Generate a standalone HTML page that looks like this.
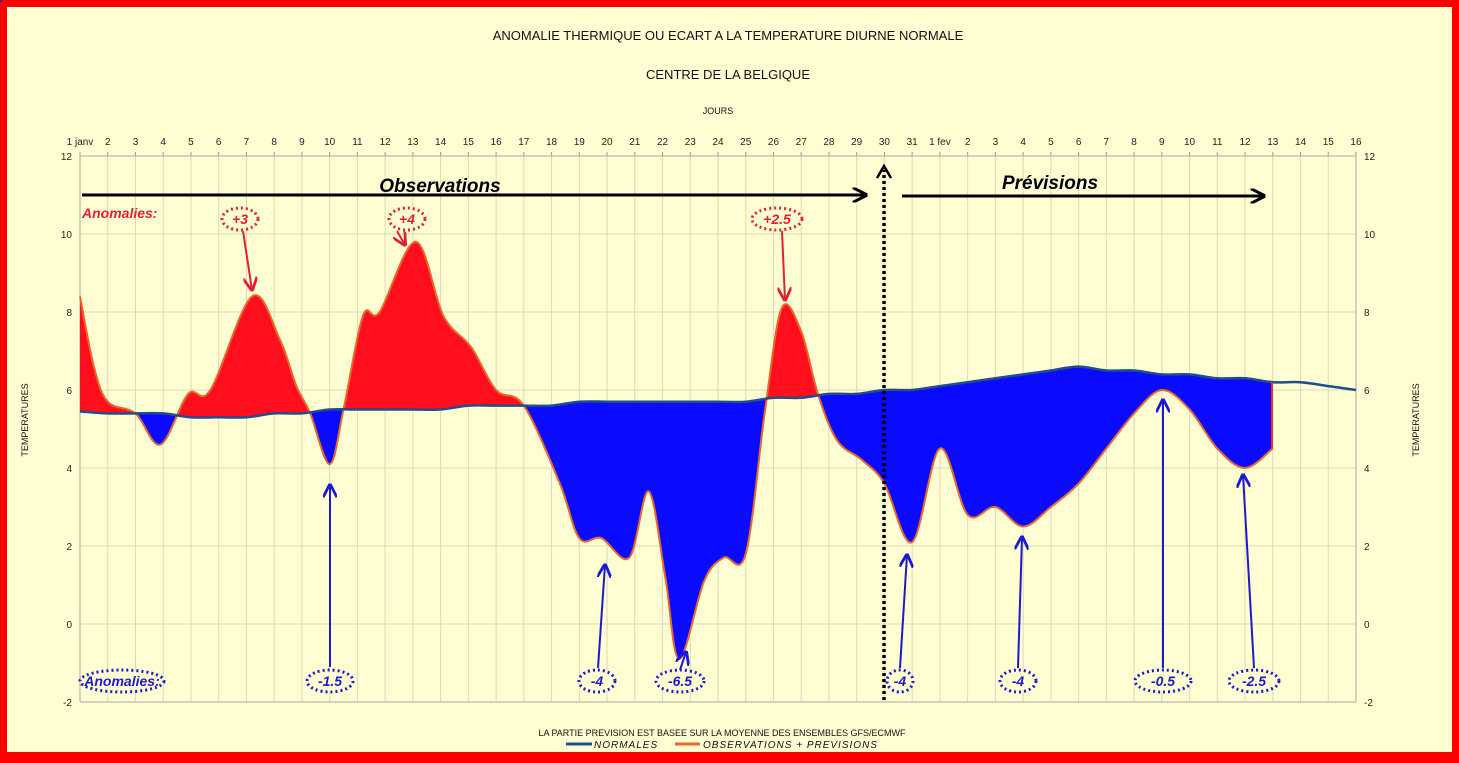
<!DOCTYPE html>
<html><head><meta charset="utf-8"><style>
html,body{margin:0;padding:0;background:#fffdd2;}
svg{display:block;font-family:"Liberation Sans",sans-serif;}
</style></head><body>
<svg id="s" width="1459" height="763" viewBox="0 0 1459 763" xmlns="http://www.w3.org/2000/svg">
<rect x="0" y="0" width="1459" height="763" fill="#ff0000"/>
<rect x="7" y="7" width="1445" height="745" fill="#fffdd2"/>
<g id="grid"></g>
<defs>
<clipPath id="above"><path id="cA"/></clipPath>
<clipPath id="below"><path id="cB"/></clipPath>
<marker id="ar" viewBox="0 0 10 10" refX="9" refY="5" markerWidth="7" markerHeight="7" orient="auto-start-reverse"><path d="M0,0 L10,5 L0,10" fill="none" stroke="context-stroke" stroke-width="2"/></marker>
<marker id="ab" viewBox="0 0 10 10" refX="9" refY="5" markerWidth="5" markerHeight="5" orient="auto"><path d="M0,0 L10,5 L0,10" fill="none" stroke="#000" stroke-width="2"/></marker>
</defs>
<path id="fr" fill="#ff0f1e" clip-path="url(#above)"/>
<path id="fb" fill="#0a0aff" clip-path="url(#below)"/>
<path id="obs" fill="none" stroke="#e8682c" stroke-width="2"/>
<path id="nor" fill="none" stroke="#1f4e8c" stroke-width="2.5"/>
<line x1="1272" y1="382" x2="1272" y2="448" stroke="#e0303a" stroke-width="2"/>
<text x="728" y="40" font-size="13" text-anchor="middle" fill="#111">ANOMALIE THERMIQUE OU ECART A LA TEMPERATURE DIURNE NORMALE</text>
<text x="728" y="79" font-size="13" text-anchor="middle" fill="#111">CENTRE DE LA BELGIQUE</text>
<text x="718" y="114" font-size="9" text-anchor="middle" fill="#111">JOURS</text>
<text transform="translate(28,420) rotate(-90)" font-size="9" text-anchor="middle" fill="#111">TEMPERATURES</text>
<text transform="translate(1419,420) rotate(-90)" font-size="9" text-anchor="middle" fill="#111">TEMPERATURES</text>
<text x="722" y="736" font-size="9" text-anchor="middle" fill="#111">LA PARTIE PREVISION EST BASEE SUR LA MOYENNE DES ENSEMBLES GFS/ECMWF</text>
<line x1="566" y1="744" x2="592" y2="744" stroke="#1f4e8c" stroke-width="3"/>
<text x="594" y="748" font-size="10" font-style="italic" fill="#111" letter-spacing="1">NORMALES</text>
<line x1="675" y1="744" x2="700" y2="744" stroke="#e8682c" stroke-width="3"/>
<text x="703" y="748" font-size="10" font-style="italic" fill="#111" letter-spacing="1">OBSERVATIONS + PREVISIONS</text>
<line x1="82" y1="195" x2="866" y2="195" stroke="#000" stroke-width="3" marker-end="url(#ab)"/>
<text x="440" y="192" font-size="19" font-weight="bold" font-style="italic" text-anchor="middle" fill="#000">Observations</text>
<line x1="902" y1="196" x2="1264" y2="196" stroke="#000" stroke-width="3" marker-end="url(#ab)"/>
<text x="1050" y="189" font-size="19" font-weight="bold" font-style="italic" text-anchor="middle" fill="#000">Prévisions</text>
<line x1="884" y1="700" x2="884" y2="170" stroke="#000" stroke-width="3.5" stroke-dasharray="3,3"/>
<path d="M877,178 L884,166 L891,178" fill="none" stroke="#000" stroke-width="2.5"/>
<text x="82" y="218" font-size="14" font-weight="bold" font-style="italic" fill="#e0203a">Anomalies:</text>
<g id="ann"></g>
</svg>
<script>
var X=d=>80+d*27.739, Y=v=>156+(12-v)*39;
var g=document.getElementById('grid'),h='';
for(var i=0;i<=46;i++){var x=X(i);h+='<line x1="'+x+'" y1="156" x2="'+x+'" y2="702" stroke="#ddd9b8" stroke-width="1"/>';
h+='<line x1="'+x+'" y1="152" x2="'+x+'" y2="156" stroke="#999"/>';}
for(var v=-2;v<=12;v+=2){var y=Y(v);h+='<line x1="80" y1="'+y+'" x2="1356" y2="'+y+'" stroke="#ddd9b8"/>';
h+='<text x="72" y="'+(y+4)+'" font-size="10" text-anchor="end" fill="#222">'+v+'</text><text x="1364" y="'+(y+4)+'" font-size="10" fill="#222">'+v+'</text>';}
h+='<line x1="80" y1="156" x2="80" y2="702" stroke="#aaa"/><line x1="1356" y1="156" x2="1356" y2="702" stroke="#aaa"/><line x1="80" y1="156" x2="1356" y2="156" stroke="#aaa"/><line x1="80" y1="702" x2="1356" y2="702" stroke="#aaa"/>';
var labs=['1 janv'];for(i=2;i<=31;i++)labs.push(''+i);labs.push('1 fev');for(i=2;i<=16;i++)labs.push(''+i);
labs.forEach((l,i)=>{h+='<text x="'+X(i)+'" y="145" font-size="10" text-anchor="middle" fill="#222">'+l+'</text>';});
g.innerHTML=h;
function cr(p){var s='M'+X(p[0][0])+','+Y(p[0][1]);var P=p.map(q=>[X(q[0]),Y(q[1])]);
for(var i=0;i<P.length-1;i++){var a=P[i-1]||P[i],b=P[i],c=P[i+1],d=P[i+2]||c;
s+=' C'+(b[0]+(c[0]-a[0])/6)+','+(b[1]+(c[1]-a[1])/6)+' '+(c[0]-(d[0]-b[0])/6)+','+(c[1]-(d[1]-b[1])/6)+' '+c[0]+','+c[1];}return s;}
var nv=[5.45,5.4,5.4,5.4,5.3,5.3,5.3,5.4,5.4,5.5,5.5,5.5,5.5,5.5,5.6,5.6,5.6,5.6,5.7,5.7,5.7,5.7,5.7,5.7,5.7,5.8,5.8,5.9,5.9,6.0,6.0,6.1,6.2,6.3,6.4,6.5,6.6,6.5,6.5,6.4,6.4,6.3,6.3,6.2,6.2,6.1,6.0];
var N=nv.map((v,i)=>[i,v]);
var O=[[0,8.4],[0.5,6.6],[1,5.7],[2,5.4],[2.9,4.6],[3.9,5.9],[4.7,6.0],[6.2,8.4],[7.2,7.3],[7.8,6.1],[8.3,5.4],[9,4.1],[9.5,5.5],[10.2,7.9],[10.8,8.0],[12.1,9.8],[13.1,7.9],[14.1,7.1],[15,6.0],[16,5.6],[17.3,3.6],[18,2.2],[18.8,2.2],[19.8,1.7],[20.5,3.4],[21.1,1.2],[21.6,-0.9],[22.5,1.1],[23.2,1.7],[24,1.8],[24.7,5.5],[25.3,8.1],[26,7.5],[26.6,5.9],[27.3,4.7],[28.2,4.2],[29,3.6],[30,2.1],[31,4.5],[32,2.8],[33,3.0],[34,2.5],[35,3.0],[36,3.6],[37,4.5],[38,5.4],[39,6.0],[40,5.5],[41,4.5],[42,4.0],[43,4.5]];
var nP=cr(N);
document.getElementById('nor').setAttribute('d',nP);
var oP=cr(O);document.getElementById('obs').setAttribute('d',oP);
document.getElementById('cA').setAttribute('d',nP+' L'+X(46)+',0 L'+X(0)+',0 Z');
document.getElementById('cB').setAttribute('d',nP+' L'+X(46)+',763 L'+X(0)+',763 Z');
var fill=oP+' L'+X(43)+','+Y(6.2)+' L'+X(43)+',0 L'+X(0)+',0 Z';
document.getElementById('fr').setAttribute('d',oP+' L'+X(43)+',763 L'+X(0)+',763 Z');
document.getElementById('fb').setAttribute('d',fill);
var a='';
function ann(cx,cy,w,t,col,ax1,ay1,ax2,ay2){a+='<line x1="'+ax1+'" y1="'+ay1+'" x2="'+ax2+'" y2="'+ay2+'" stroke="'+col+'" stroke-width="2" marker-end="url(#ar)"/>';
a+='<ellipse cx="'+cx+'" cy="'+cy+'" rx="'+w/2+'" ry="11" fill="#fffdd2" stroke="'+col+'" stroke-width="3" stroke-dasharray="2,3"/>';
a+='<text x="'+cx+'" y="'+(cy+5)+'" font-size="14" font-weight="bold" font-style="italic" text-anchor="middle" fill="'+col+'">'+t+'</text>';}
var R='#e0203a',B='#1a1ad0';
ann(240,219,36,'+3',R,243,231,252,290);
ann(407,219,36,'+4',R,397,231,405,245);
ann(777,219,50,'+2.5',R,782,231,785,300);
ann(122,681,84,'Anomalies:',B,0,0,0,0);
ann(330,681,46,'-1.5',B,330,667,330,485);
ann(597,681,36,'-4',B,598,668,605,565);
ann(680,681,48,'-6.5',B,680,670,686,652);
ann(900,681,26,'-4',B,900,668,907,555);
ann(1018,681,36,'-4',B,1018,668,1022,537);
ann(1163,681,56,'-0.5',B,1163,668,1163,400);
ann(1254,681,50,'-2.5',B,1254,668,1243,475);
document.getElementById('ann').innerHTML=a;
</script>
</body></html>
